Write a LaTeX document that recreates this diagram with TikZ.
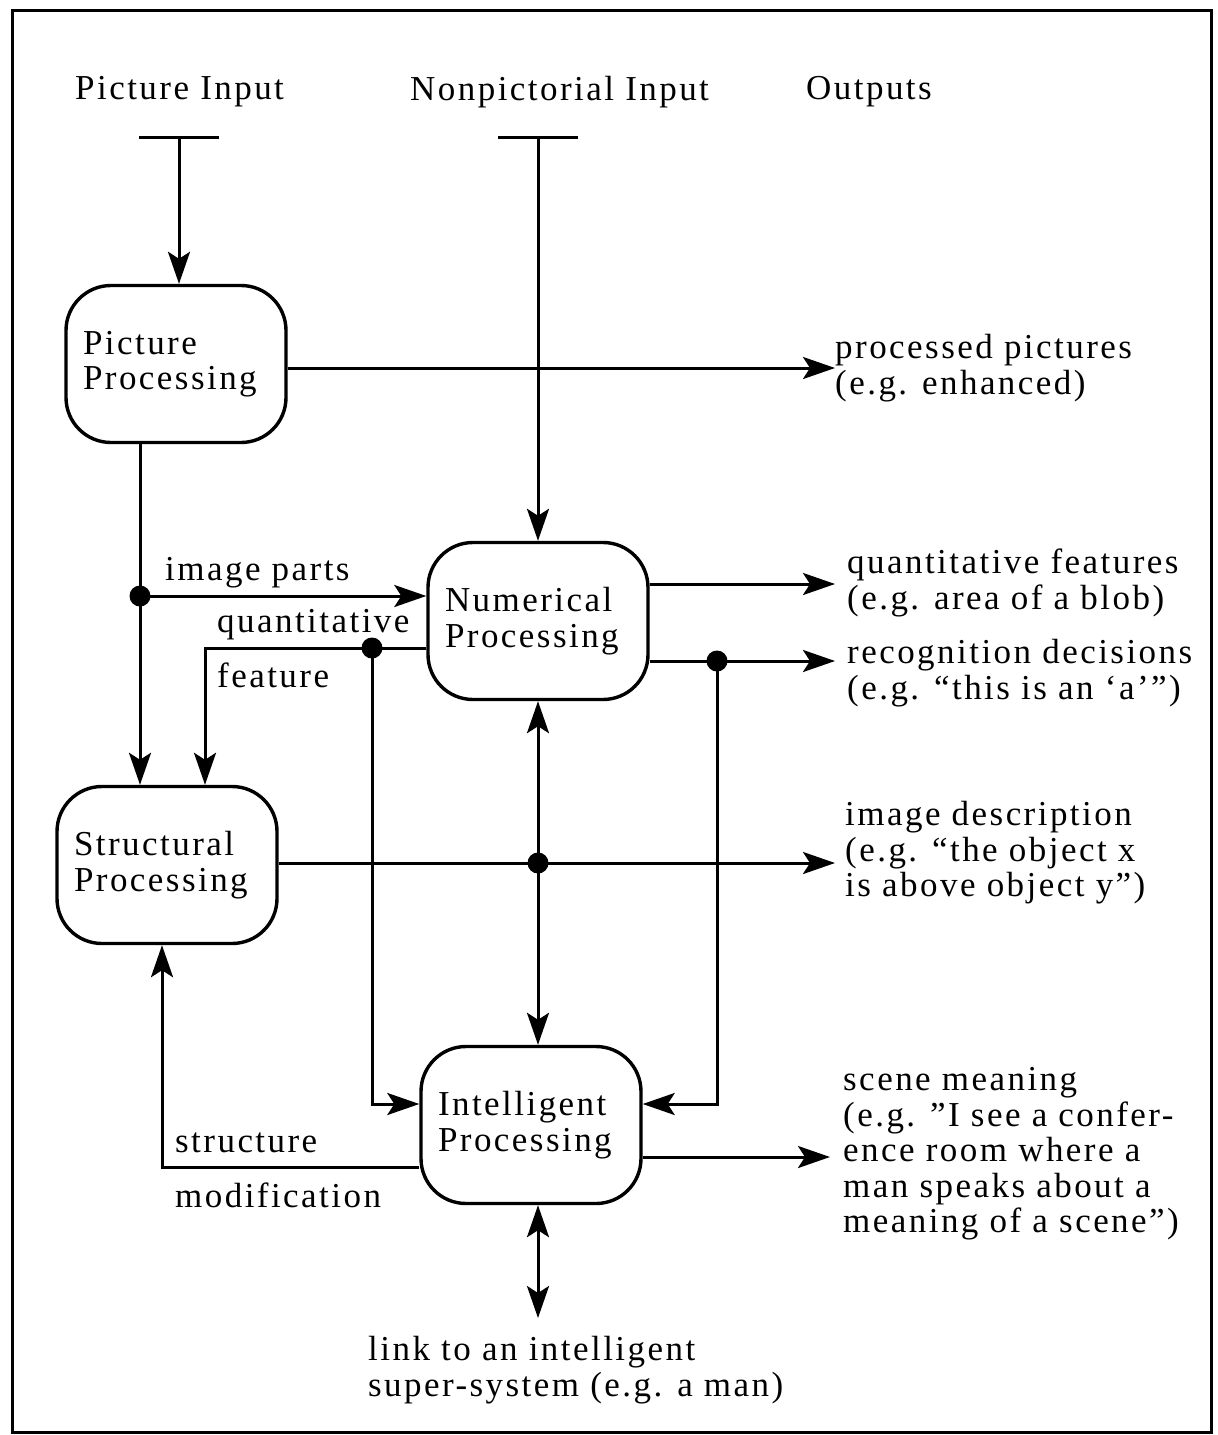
\documentclass[tikz,border=0pt]{standalone}
\usepackage{fontspec}
\setmainfont[LetterSpace=7]{Liberation Serif}
\usetikzlibrary{arrows.meta}

\tikzset{
  proc/.style={draw, line width=3.4pt, rounded corners=45pt,
    minimum width=220pt, minimum height=157pt,
    text width=186pt, inner xsep=17pt, align=left},
  lbl/.style={inner sep=0pt, anchor=west, align=left},
  conn/.style={line width=3pt},
  arr/.style={conn, -{Stealth[length=32pt, width=22pt, inset=7pt]}},
  darr/.style={conn, {Stealth[length=32pt, width=22pt, inset=7pt]}-{Stealth[length=32pt, width=22pt, inset=7pt]}},
  dot/.style={fill=black, circle, inner sep=0pt, minimum size=21pt}
}

\begin{document}
\begin{tikzpicture}[x=1pt, y=-1pt, font=\fontsize{35}{35.5}\selectfont]
  % canvas and frame
  \useasboundingbox (0,0) rectangle (1218,1435);
  \draw[line width=3pt] (12,10) rectangle (1211,1432);

  % column headings
  \node[lbl] (hpic) at (75,92) {Picture Input};
  \node[lbl] (hnon) at (410,92) {Nonpictorial Input};
  \node[lbl] (hout) at (806,92) {Outputs};

  % processing stages
  \node[proc] (pp) at (176,364) {Picture\\Processing};
  \node[proc] (np) at (538,621) {Numerical\\Processing};
  \node[proc] (sp) at (167,865) {Structural\\Processing};
  \node[proc] (ip) at (531,1125) {Intelligent\\Processing};

  % input terminals
  \coordinate (pin) at (179,137);
  \coordinate (nin) at (538,137);
  \draw[conn] ([xshift=-40pt]pin) -- ([xshift=40pt]pin);
  \draw[conn] ([xshift=-40pt]nin) -- ([xshift=40pt]nin);
  \draw[arr] (pin) -- (pin |- pp.north);
  \draw[arr] (nin) -- (nin |- np.north);

  % output texts
  \node[lbl] (o1) at (835,368) {processed pictures\\(e.g. enhanced)};
  \node[lbl] (o2) at (847,583) {quantitative features\\(e.g. area of a blob)};
  \node[lbl] (o3) at (847,673) {recognition decisions\\(e.g. “this is an ‘a’”)};
  \node[lbl] (o4) at (845,853) {image description\\(e.g. “the object x\\is above object y”)};
  \node[lbl] (o5) at (843,1154) {scene meaning\\(e.g. ”I see a confer-\\ence room where a\\man speaks about a\\meaning of a scene”)};
  \node[lbl] (o6) at (368,1370) {link to an intelligent\\super-system (e.g. a man)};

  % connector labels
  \node[lbl] (limg) at (165,573) {image parts};
  \node[lbl] (lqua) at (217,625) {quantitative};
  \node[lbl] (lfea) at (217,675) {feature};
  \node[lbl] (lstr) at (175,1143) {structure};
  \node[lbl] (lmod) at (175,1195) {modification};

  % junctions and bends
  \node[dot] (d1) at (140,596) {};
  \node[dot] (d2) at (372,648) {};
  \node[dot] (d3) at (717,661) {};
  \node[dot] (d4) at (538,863) {};
  \coordinate (qf) at (205,648);
  \coordinate (c1) at (372,1104);
  \coordinate (c2) at (717,1104);
  \coordinate (sm) at (162,1167);
  \coordinate (e2) at (835,584);
  \coordinate (e3) at (835,661);
  \coordinate (e4) at (835,863);
  \coordinate (e5) at (830,1157);
  \coordinate (lk) at (538,1318);

  % picture processing outputs
  \draw[arr] (pp.east |- o1.west) -- (o1.west);
  \draw[arr] (d1 |- pp.south) -- (d1 |- sp.north);
  \draw[arr] (d1.center) -- (d1 -| np.west);

  % numerical processing connections
  \draw[arr] (d2 -| np.west) -- (qf) -- (qf |- sp.north);
  \draw[arr] (d2.center) -- (c1) -- (c1 -| ip.west);
  \draw[arr] (np.east |- e2) -- (e2);
  \draw[arr] (d3 -| np.east) -- (e3);
  \draw[arr] (d3.center) -- (c2) -- (c2 -| ip.east);
  \draw[darr] (np.south) -- (np.south |- ip.north);

  % structural processing output
  \draw[arr] (sp.east |- d4) -- (e4);

  % intelligent processing connections
  \draw[arr] (ip.west |- sm) -- (sm) -- (sm |- sp.south);
  \draw[arr] (ip.east |- e5) -- (e5);
  \draw[darr] (lk |- ip.south) -- (lk);
\end{tikzpicture}
\end{document}
